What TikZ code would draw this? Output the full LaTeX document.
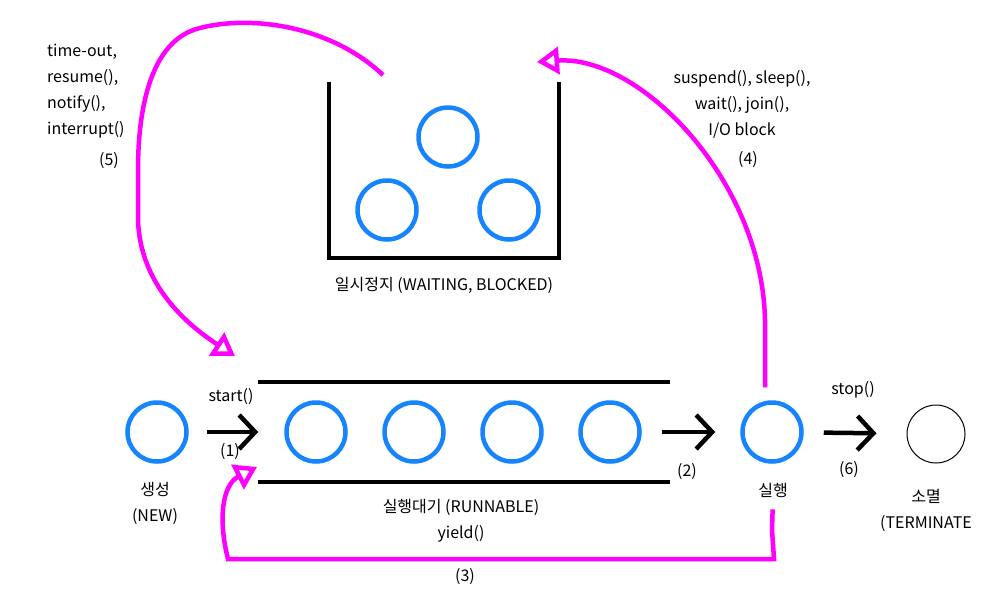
\documentclass[tikz,border=0pt]{standalone}
\usepackage{fontspec}
\setmainfont{Noto Sans CJK KR}
\usepackage{tikz}
\usetikzlibrary{arrows.meta}
\definecolor{qblue}{RGB}{22,132,255}
\definecolor{hand}{RGB}{255,0,255}

\begin{document}
\begin{tikzpicture}[x=1pt,y=-1pt,>={Straight Barb[length=16pt,width=34pt]},
                    node distance=98pt,font=\fontsize{16}{26}\selectfont]
  \tikzstyle{thread}=[circle,draw=qblue,line width=4.5pt,minimum size=59pt,inner sep=0pt]
  \tikzstyle{dead}=[circle,draw,line width=1pt,minimum size=58pt,inner sep=0pt]
  \tikzstyle{wall}=[line width=4pt]
  \tikzstyle{go}=[line width=4.5pt,->]
  \tikzstyle{back}=[draw=hand,line width=4.5pt,
    -{Triangle[open,length=22pt,width=27pt]}]
  \tikzstyle{caption}=[align=center,inner sep=0pt]

  \useasboundingbox (0,0) rectangle (1000,600);

  \node[thread] (N) at (157,432) {};
  \node[thread] (R1) at (316,432) {};
  \node[thread] (R2) [right of=R1] {};
  \node[thread] (R3) [right of=R2] {};
  \node[thread] (R4) [right of=R3] {};
  \node[thread] (Run) at (772,432) {};
  \node[dead] (T) at (936,434) {};

  \node[thread] (W1) at (448,137) {};
  \node[thread] (W2) at (387,210) {};
  \node[thread] (W3) at (509,210) {};

  \draw[wall] (329,82) -- (329,258) -- (559,258) -- (559,82);
  \draw[wall] (258,382) -- (670,382);
  \draw[wall] (258,482) -- (670,482);

  \node[caption] (Nl) at (155,503) {생성\\(NEW)};
  \node[caption] (Rl) at (461,521) {실행대기 (RUNNABLE)\\yield()};
  \node[caption] (Runl) at (773,490) {실행};
  \node[caption] (Tl) at (926,510) {소멸\\(TERMINATE};
  \node[caption] (Wl) at (444,285) {일시정지 (WAITING, BLOCKED)};

  \node[caption] (s1) at (231,397) {start()};
  \node[caption] (n1) at (230,452) {(1)};
  \node[caption] (n2) at (687,472) {(2)};
  \node[caption] (n3) at (465,577) {(3)};
  \node[caption] (why4) at (742,104) {suspend(), sleep(),\\wait(), join(),\\I/O block};
  \node[caption] (n4) at (748,160) {(4)};
  \node[caption,align=left,anchor=west] (why5) at (47,91) {time-out,\\resume(),\\notify(),\\interrupt()};
  \node[caption] (n5) at (109,161) {(5)};
  \node[caption] (s6) at (853,390) {stop()};
  \node[caption] (n6) at (849,470) {(6)};

  \draw (N) edge [go,shorten <=18pt,shorten >=26pt] (R1)
        (R4) edge [go,shorten <=20pt,shorten >=25pt] (Run)
        (Run) edge [go,shorten <=20pt,shorten >=30pt] (T);

  \coordinate (in3) at (257,467);
  \coordinate (in4) at (537,62);
  \coordinate (out5) at (383,75);
  \coordinate (in5) at (235,356);

  \draw[back,shorten <=12pt] (Runl.south) -- (772,530) -- (774,559) -- (228,559)
        .. controls (218,520) and (222,485) .. (in3);
  \draw[back,shorten <=13pt] ([xshift=-7pt]Run.north) -- (765,320)
        .. controls (762,180) and (640,55) .. (in4);
  \draw[back] (out5) .. controls (330,25) and (250,15) .. (200,28)
        .. controls (150,40) and (138,110) .. (138,170) -- (138,220)
        .. controls (140,280) and (180,320) .. (in5);
\end{tikzpicture}
\end{document}
